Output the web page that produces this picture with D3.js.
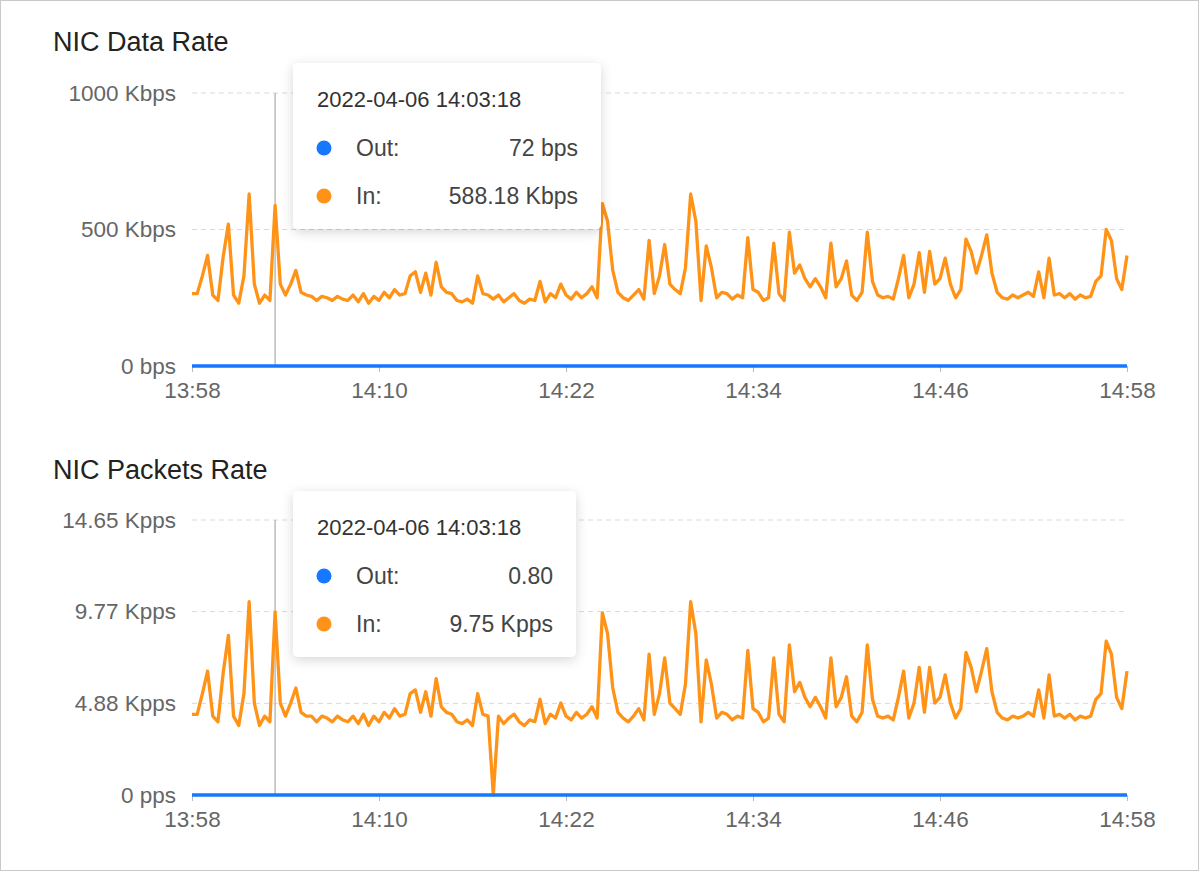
<!DOCTYPE html>
<html><head><meta charset="utf-8">
<script src="https://cdn.jsdelivr.net/npm/d3@7"></script>
<style>body{margin:0;background:#fff;font-family:"Liberation Sans",Arial,sans-serif}</style>
</head><body>
<script>
// In data rate, Kbps, one point every 20 s from 13:58:00
var inKbps = [
  265,265,330,405,260,240,400,520,260,230,
  330,630,300,230,260,240,588.18,300,260,300,
  350,270,260,255,240,255,250,240,255,245,
  240,260,235,265,230,255,240,270,250,280,
  260,265,330,345,270,340,260,380,290,270,
  265,240,235,245,230,330,265,260,245,260,
  235,250,265,240,230,245,240,310,235,265,
  250,300,260,245,270,250,265,290,250,595,
  530,350,270,250,240,260,280,245,460,265,
  330,445,300,280,265,360,630,530,240,440,
  360,250,270,265,245,260,250,470,280,270,
  240,250,450,265,240,490,340,370,320,290,
  320,290,250,450,290,320,385,260,240,270,
  490,310,260,250,255,245,320,405,250,300,
  415,270,420,300,320,395,300,250,280,465,
  420,340,405,480,340,270,250,245,260,250,
  260,270,255,345,250,395,260,265,250,265,
  245,260,250,255,310,330,500,460,320,280,405
];
// In packets rate, Kpps
var inKpps = [
  4.3,4.3,5.4,6.6,4.2,3.9,6.5,8.5,4.2,3.7,
  5.4,10.3,4.9,3.7,4.2,3.9,9.75,4.9,4.2,4.9,
  5.7,4.4,4.2,4.2,3.9,4.2,4.1,3.9,4.2,4.0,
  3.9,4.2,3.8,4.3,3.7,4.2,3.9,4.4,4.1,4.6,
  4.2,4.3,5.4,5.6,4.4,5.5,4.2,6.2,4.7,4.4,
  4.3,3.9,3.8,4.0,3.7,5.4,4.3,4.2,0,4.2,
  3.8,4.1,4.3,3.9,3.7,4.0,3.9,5.1,3.8,4.3,
  4.1,4.9,4.2,4.0,4.4,4.1,4.3,4.7,4.1,9.7,
  8.6,5.7,4.4,4.1,3.9,4.2,4.6,4.0,7.5,4.3,
  5.4,7.3,4.9,4.6,4.3,5.9,10.3,8.6,3.9,7.2,
  5.9,4.1,4.4,4.3,4.0,4.2,4.1,7.7,4.6,4.4,
  3.9,4.1,7.3,4.3,3.9,8.0,5.5,6.0,5.2,4.7,
  5.2,4.7,4.1,7.3,4.7,5.2,6.3,4.2,3.9,4.4,
  8.0,5.1,4.2,4.1,4.2,4.0,5.2,6.6,4.1,4.9,
  6.8,4.4,6.8,4.9,5.2,6.4,4.9,4.1,4.6,7.6,
  6.8,5.5,6.6,7.8,5.5,4.4,4.1,4.0,4.2,4.1,
  4.2,4.4,4.2,5.6,4.1,6.4,4.2,4.3,4.1,4.3,
  4.0,4.2,4.1,4.2,5.1,5.4,8.2,7.5,5.2,4.6,6.6
];
// Out is near zero throughout (72 bps / 0.80 pps)
var outKbps = [
  0.07,0.07,0.08,0.07,0.07,0.06,0.07,0.07,0.07,0.08,0.07,0.07,0.07,0.07,0.06,0.07,0.072,0.07,0.07,0.07,
  0.07,0.07,0.08,0.07,0.07,0.06,0.07,0.07,0.07,0.08,0.07,0.07,0.07,0.07,0.06,0.07,0.07,0.07,0.07,0.07,
  0.07,0.07,0.08,0.07,0.07,0.06,0.07,0.07,0.07,0.08,0.07,0.07,0.07,0.07,0.06,0.07,0.07,0.07,0.07,0.07,
  0.07,0.07,0.08,0.07,0.07,0.06,0.07,0.07,0.07,0.08,0.07,0.07,0.07,0.07,0.06,0.07,0.07,0.07,0.07,0.07,
  0.07,0.07,0.08,0.07,0.07,0.06,0.07,0.07,0.07,0.08,0.07,0.07,0.07,0.07,0.06,0.07,0.07,0.07,0.07,0.07,
  0.07,0.07,0.08,0.07,0.07,0.06,0.07,0.07,0.07,0.08,0.07,0.07,0.07,0.07,0.06,0.07,0.07,0.07,0.07,0.07,
  0.07,0.07,0.08,0.07,0.07,0.06,0.07,0.07,0.07,0.08,0.07,0.07,0.07,0.07,0.06,0.07,0.07,0.07,0.07,0.07,
  0.07,0.07,0.08,0.07,0.07,0.06,0.07,0.07,0.07,0.08,0.07,0.07,0.07,0.07,0.06,0.07,0.07,0.07,0.07,0.07,
  0.07,0.07,0.08,0.07,0.07,0.06,0.07,0.07,0.07,0.08,0.07,0.07,0.07,0.07,0.06,0.07,0.07,0.07,0.07,0.07,0.07
];
var outKpps = [
  0.0008,0.0008,0.0009,0.0008,0.0008,0.0007,0.0008,0.0008,0.0008,0.0009,0.0008,0.0008,0.0008,0.0008,0.0007,0.0008,0.0008,0.0008,0.0008,0.0008,
  0.0008,0.0008,0.0009,0.0008,0.0008,0.0007,0.0008,0.0008,0.0008,0.0009,0.0008,0.0008,0.0008,0.0008,0.0007,0.0008,0.0008,0.0008,0.0008,0.0008,
  0.0008,0.0008,0.0009,0.0008,0.0008,0.0007,0.0008,0.0008,0.0008,0.0009,0.0008,0.0008,0.0008,0.0008,0.0007,0.0008,0.0008,0.0008,0.0008,0.0008,
  0.0008,0.0008,0.0009,0.0008,0.0008,0.0007,0.0008,0.0008,0.0008,0.0009,0.0008,0.0008,0.0008,0.0008,0.0007,0.0008,0.0008,0.0008,0.0008,0.0008,
  0.0008,0.0008,0.0009,0.0008,0.0008,0.0007,0.0008,0.0008,0.0008,0.0009,0.0008,0.0008,0.0008,0.0008,0.0007,0.0008,0.0008,0.0008,0.0008,0.0008,
  0.0008,0.0008,0.0009,0.0008,0.0008,0.0007,0.0008,0.0008,0.0008,0.0009,0.0008,0.0008,0.0008,0.0008,0.0007,0.0008,0.0008,0.0008,0.0008,0.0008,
  0.0008,0.0008,0.0009,0.0008,0.0008,0.0007,0.0008,0.0008,0.0008,0.0009,0.0008,0.0008,0.0008,0.0008,0.0007,0.0008,0.0008,0.0008,0.0008,0.0008,
  0.0008,0.0008,0.0009,0.0008,0.0008,0.0007,0.0008,0.0008,0.0008,0.0009,0.0008,0.0008,0.0008,0.0008,0.0007,0.0008,0.0008,0.0008,0.0008,0.0008,
  0.0008,0.0008,0.0009,0.0008,0.0008,0.0007,0.0008,0.0008,0.0008,0.0009,0.0008,0.0008,0.0008,0.0008,0.0007,0.0008,0.0008,0.0008,0.0008,0.0008,0.0008
];
var xTickLabels = ["13:58","14:10","14:22","14:34","14:46","14:58"];
var dataTicks = [0, 500, 1000], dataTickLabels = ["0 bps","500 Kbps","1000 Kbps"];
var pktTicks = [0, 4.88, 9.77, 14.65], pktTickLabels = ["0 pps","4.88 Kpps","9.77 Kpps","14.65 Kpps"];
var hoverIndex = 16, hoverTime = "2022-04-06 14:03:18";

var t0 = new Date(2022, 3, 6, 13, 58, 0);
var times = inKbps.map(function(d, i) { return new Date(t0.getTime() + i * 20000); });
var blue = "#1677ff", orange = "#ff9318";

var svg = d3.select("body").append("svg").attr("width", 1200).attr("height", 872);
svg.append("rect").attr("x", 0.5).attr("y", 0.5).attr("width", 1198).attr("height", 870)
  .attr("fill", "none").attr("stroke", "#c9c9c9");
var defs = svg.append("defs");
var f = defs.append("filter").attr("id", "sh").attr("x", "-20%").attr("y", "-20%").attr("width", "140%").attr("height", "150%");
f.append("feDropShadow").attr("dx", 0).attr("dy", 3).attr("stdDeviation", 6).attr("flood-color", "#000").attr("flood-opacity", 0.16);

var x = d3.scaleTime().domain([t0, times[times.length - 1]]).range([192, 1127]);

function panel(cfg) {
  var g = svg.append("g");
  var y = d3.scaleLinear().domain([0, cfg.max]).range([cfg.bottom, cfg.top]);
  g.append("text").attr("x", 53).attr("y", cfg.titleY).attr("font-size", 27).attr("fill", "#222").text(cfg.title);
  cfg.ticks.forEach(function(t, i) {
    if (i > 0) g.append("line").attr("x1", 192).attr("x2", 1127).attr("y1", y(t)).attr("y2", y(t))
      .attr("stroke", "#d9d9d9").attr("stroke-dasharray", "5,4");
    g.append("text").attr("x", 176).attr("y", y(t)).attr("dy", "0.35em").attr("text-anchor", "end")
      .attr("font-size", 22.5).attr("fill", "#666").text(cfg.tickLabels[i]);
  });
  var xa = g.append("g").attr("transform", "translate(0," + cfg.bottom + ")")
    .call(d3.axisBottom(x).tickValues(xTickLabels.map(function(s, i) { return new Date(t0.getTime() + i * 720000); }))
      .tickFormat(function(d, i) { return xTickLabels[i]; }).tickSize(6).tickPadding(10));
  xa.select(".domain").attr("stroke", "#bbb");
  xa.selectAll(".tick line").attr("stroke", "#bbb");
  xa.selectAll("text").attr("font-size", 22.5).attr("fill", "#666").attr("font-family", "inherit");
  var line = d3.line().x(function(d, i) { return x(times[i]); }).y(function(d) { return y(d); });
  g.append("line").attr("x1", x(times[hoverIndex])).attr("x2", x(times[hoverIndex]))
    .attr("y1", cfg.top).attr("y2", cfg.bottom).attr("stroke", "#bbb").attr("stroke-width", 1.5);
  g.append("path").datum(cfg.inData).attr("d", line).attr("fill", "none").attr("stroke", orange)
    .attr("stroke-width", 3.3).attr("stroke-linejoin", "round");
  g.append("path").datum(cfg.outData).attr("d", line).attr("fill", "none").attr("stroke", blue)
    .attr("stroke-width", 3.5);
  // tooltip
  var tt = g.append("g").attr("transform", "translate(293," + cfg.ttY + ")");
  tt.append("rect").attr("width", cfg.ttW).attr("height", 166).attr("rx", 5).attr("fill", "#fff").attr("filter", "url(#sh)");
  tt.append("text").attr("x", 24).attr("y", 44).attr("font-size", 22).attr("fill", "#333").text(hoverTime);
  [["Out:", cfg.outLabel, blue], ["In:", cfg.inLabel, orange]].forEach(function(r, i) {
    var ry = 85 + i * 48;
    tt.append("circle").attr("cx", 31).attr("cy", ry).attr("r", 7.5).attr("fill", r[2]);
    tt.append("text").attr("x", 63).attr("y", ry).attr("dy", "0.35em").attr("font-size", 23).attr("fill", "#444").text(r[0]);
    tt.append("text").attr("x", cfg.ttW - 23).attr("y", ry).attr("dy", "0.35em").attr("text-anchor", "end")
      .attr("font-size", 23).attr("fill", "#444").text(r[1]);
  });
}

panel({title: "NIC Data Rate", titleY: 51, top: 93, bottom: 366, max: 1000, ticks: dataTicks, tickLabels: dataTickLabels,
  inData: inKbps, outData: outKbps, ttY: 63, ttW: 308, outLabel: "72 bps", inLabel: "588.18 Kbps"});
panel({title: "NIC Packets Rate", titleY: 479, top: 520, bottom: 795, max: 14.65, ticks: pktTicks, tickLabels: pktTickLabels,
  inData: inKpps, outData: outKpps, ttY: 491, ttW: 283, outLabel: "0.80", inLabel: "9.75 Kpps"});
</script>
</body></html>
